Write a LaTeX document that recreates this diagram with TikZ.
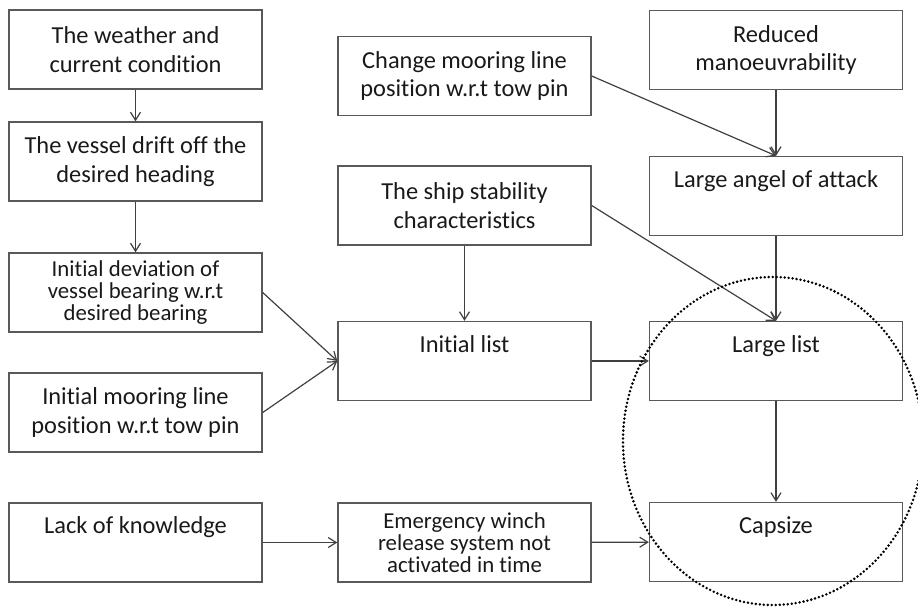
\documentclass[tikz,border=0pt]{standalone}
\usepackage{fontspec}
\setmainfont{Carlito}[Ligatures=NoCommon]
\usetikzlibrary{arrows.meta}

\begin{document}
\begin{tikzpicture}[x=0.5pt, y=-0.5pt,
    box/.style={draw=black!65, line width=0.7pt, minimum width=126.5pt, minimum height=39.5pt,
        inner sep=0pt, align=center, text=black!90, font=\fontsize{12.2}{14.2}\selectfont},
    smallbox/.style={box, font=\fontsize{11.4}{11}\selectfont},
    topbox/.style={box, text height=9pt, text depth=18pt},
    arr/.style={draw=black!75, line width=0.6pt, -{Straight Barb[length=4pt,width=5pt]}}]

    \useasboundingbox (0,0) rectangle (918,607);

    % Left column
    \node[box] (weather) at (135.5,49.5) {The weather and\\current condition};
    \node[box] (drift) at (135.5,161.5) {The vessel drift off the\\desired heading};
    \node[smallbox] (deviation) at (135.5,292.5) {Initial deviation of\\vessel bearing w.r.t\\desired bearing};
    \node[box] (mooring) at (135.5,412.5) {Initial mooring line\\position w.r.t tow pin};
    \node[topbox] (knowledge) at (135.5,542.5) {Lack of knowledge};

    % Middle column
    \node[box] (change) at (464.5,76) {Change mooring line\\position w.r.t tow pin};
    \node[box] (stability) at (464.5,205.5) {The ship stability\\characteristics};
    \node[topbox] (initlist) at (464.5,361) {Initial list};
    \node[smallbox] (winch) at (464.5,542.5) {Emergency winch\\release system not\\activated in time};

    % Right column
    \node[box] (manoeuv) at (776,50) {Reduced\\manoeuvrability};
    \node[topbox] (attack) at (776,196) {Large angel of attack};
    \node[topbox] (largelist) at (776,361) {Large list};
    \node[topbox] (capsize) at (776,542) {Capsize};

    % Arrows
    \draw[arr] (weather) -- (drift);
    \draw[arr] (drift) -- (deviation);
    \draw[arr] (deviation.east) -- (initlist.west);
    \draw[arr] (mooring.east) -- (initlist.west);
    \draw[arr] (stability) -- (initlist);
    \draw[arr] (change.east) -- (attack.north);
    \draw[arr] (manoeuv) -- (attack);
    \draw[arr] (stability.east) -- (largelist.north);
    \draw[arr] (attack) -- (largelist);
    \draw[arr] (initlist) -- (largelist);
    \draw[arr] (largelist) -- (capsize);
    \draw[arr] (knowledge) -- (winch);
    \draw[arr] (winch) -- (capsize);

    % Dotted ring
    \draw[line width=1.4pt, line cap=round, dash pattern=on 0pt off 2pt]
        (773,441) ellipse[x radius=150, y radius=164];

\end{tikzpicture}
\end{document}
